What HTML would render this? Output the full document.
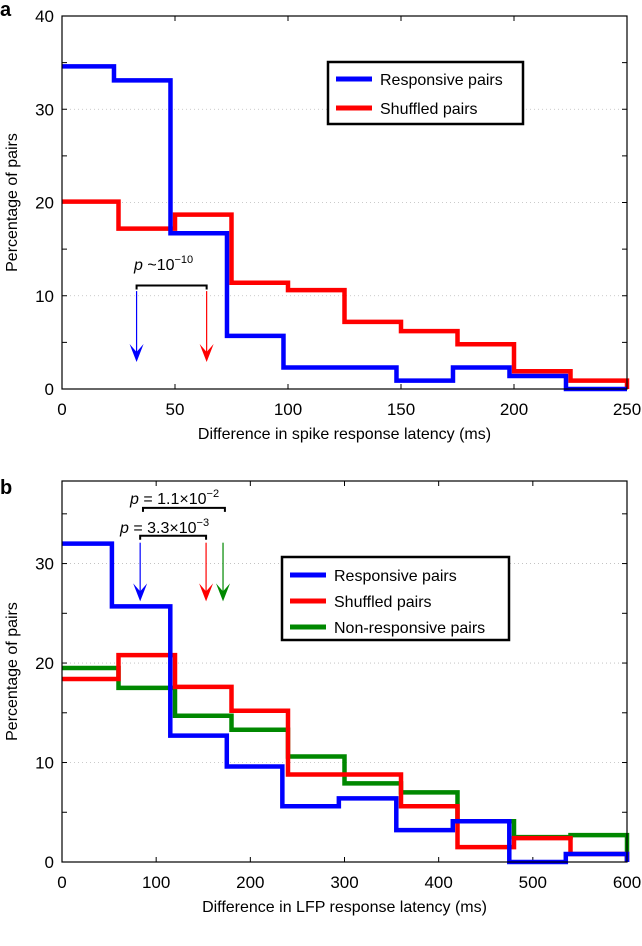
<!DOCTYPE html>
<html><head><meta charset="utf-8"><style>
body{margin:0;background:#fff;}
svg{display:block;font-family:"Liberation Sans",sans-serif;}
</style></head><body>
<svg id="s" width="642" height="946"></svg>
<script>
const aBlueEdges=[0,23,48,73,98,123,148,173,198,223,250];
const aBlueVals=[34.6,33.1,16.7,5.7,2.3,2.3,0.9,2.3,1.4,0];
const aRedEdges=[0,25,50,75,100,125,150,175,200,225,250];
const aRedVals=[20.1,17.2,18.7,11.4,10.6,7.2,6.2,4.8,1.9,0.9];
const aXTicks=[0,50,100,150,200,250];
const aYTicks=[0,10,20,30,40];
const bBlueEdges=[0,53,115,175,234,294,355,415,475,535,600];
const bBlueVals=[32,25.7,12.7,9.6,5.6,6.4,3.2,4.1,0,0.8];
const bEdges=[0,60,120,180,240,300,360,420,480,540,600];
const bRedVals=[18.4,20.8,17.6,15.2,8.8,8.8,5.6,1.5,2.4,0.8];
const bGreenVals=[19.5,17.5,14.7,13.3,10.6,7.9,7.0,4.1,2.5,2.7];
const bXTicks=[0,100,200,300,400,500,600];
const bYTicks=[0,10,20,30];
const NS="http://www.w3.org/2000/svg";
const S=document.getElementById('s');
function el(t,a,txt){const e=document.createElementNS(NS,t);for(const k in a)e.setAttribute(k,a[k]);if(txt!==undefined)e.textContent=txt;S.appendChild(e);return e;}
function panel(o){
 const X=v=>o.x0+(v-o.xmin)/(o.xmax-o.xmin)*(o.x1-o.x0);
 const Y=v=>o.y0-(v/o.ymax)*(o.y0-o.y1);
 for(let v=o.yminor;v<o.ymax;v+=o.yminor){
  const y=Y(v);
  if(v%10===0){const g=el('line',{x1:o.x0,x2:o.x1,y1:y,y2:y,stroke:'#bbb','stroke-width':0.8,'stroke-dasharray':'1,3'});}
  el('line',{x1:o.x0,x2:o.x0+5,y1:y,y2:y,stroke:'#000'});el('line',{x1:o.x1,x2:o.x1-5,y1:y,y2:y,stroke:'#000'});
 }
 o.yt.forEach(v=>{const t=el('text',{x:o.x0-8,y:Y(v)+6,'text-anchor':'end','font-size':17},v);});
 o.xt.forEach(v=>{const x=X(v);el('line',{x1:x,x2:x,y1:o.y0,y2:o.y0-5,stroke:'#000'});el('line',{x1:x,x2:x,y1:o.y1,y2:o.y1+5,stroke:'#000'});
  const t=el('text',{x:x,y:o.y0+26,'text-anchor':'middle','font-size':17},v);});
 o.series.forEach(s=>{
  let d='';for(let i=0;i<s.vals.length;i++){const xa=X(s.edges[i]),xb=X(s.edges[i+1]),y=Y(s.vals[i]);d+=(i?'L':'M')+xa+','+y+'L'+xb+','+y;}
  d+='L'+X(s.edges[s.edges.length-1])+','+Y(0);
  const p=el('path',{d:d,fill:'none',stroke:s.c,'stroke-width':4.5});
  
 });
 const r=el('rect',{x:o.x0,y:o.y1,width:o.x1-o.x0,height:o.y0-o.y1,fill:'none',stroke:'#000','stroke-width':1.2});
 
 const lab=el('text',{x:o.x0+(o.x1-o.x0)/2,y:o.y0+50,'text-anchor':'middle','font-size':16},o.xlabel);
 
 const yl=el('text',{transform:`translate(17,${(o.y0+o.y1)/2}) rotate(-90)`,'text-anchor':'middle','font-size':16},'Percentage of pairs');
 
 return {X,Y};
}
function arrow(x,yTop,yBot,c,name){
 const l=el('line',{x1:x,x2:x,y1:yTop,y2:yBot-6,stroke:c,'stroke-width':1.2});
 
 const h=el('path',{d:`M${x-7},${yBot-18}L${x},${yBot}L${x+7},${yBot-18}L${x},${yBot-10}Z`,fill:c});
 
}
function bracket(x1,x2,y,name){
 const p=el('path',{d:`M${x1},${y+4}L${x1},${y}L${x2},${y}L${x2},${y+4}`,fill:'none',stroke:'#000','stroke-width':2});
 
}
function legend(x,y,w,h,first,step,items){
 const r=el('rect',{x:x,y:y,width:w,height:h,fill:'#fff',stroke:'#000','stroke-width':2.5});
 
 items.forEach((it,i)=>{const yy=y+first+i*step;
  const l=el('line',{x1:x+8,x2:x+44,y1:yy,y2:yy,stroke:it[1],'stroke-width':5});
  
  const t=el('text',{x:x+52,y:yy+6,'font-size':16},it[0]);});
}
// panel a
const A=panel({x0:62,x1:627,y0:389,y1:16,xmin:0,xmax:250,ymax:40,yminor:5,xt:aXTicks,yt:aYTicks,xlabel:'Difference in spike response latency (ms)',
 series:[{edges:aRedEdges,vals:aRedVals,c:'#f00',name:'shuffled-pairs-line'},{edges:aBlueEdges,vals:aBlueVals,c:'#00f',name:'responsive-pairs-line'}]});
legend(328,62,195,62,17,29,[['Responsive pairs','#00f'],['Shuffled pairs','#f00']]);
arrow(A.X(33),A.Y(10.5),A.Y(2.9),'#00f','responsive-mean-arrow');
arrow(A.X(64),A.Y(10.5),A.Y(2.9),'#f00','shuffled-mean-arrow');
bracket(A.X(33),A.X(64),A.Y(11.1),'significance-bracket');
let t=el('text',{x:134,y:270,'font-size':16});t.innerHTML='<tspan font-style="italic">p</tspan> ~10<tspan dy="-7" font-size="11">−10</tspan>';

// panel b
const B=panel({x0:62,x1:627,y0:862,y1:481,xmin:0,xmax:600,ymax:38.3,yminor:5,xt:bXTicks,yt:bYTicks,xlabel:'Difference in LFP response latency (ms)',
 series:[{edges:bEdges,vals:bGreenVals,c:'#080',name:'non-responsive-pairs-line'},{edges:bEdges,vals:bRedVals,c:'#f00',name:'shuffled-pairs-line'},{edges:bBlueEdges,vals:bBlueVals,c:'#00f',name:'responsive-pairs-line'}]});
legend(282,557,227,83,18,26,[['Responsive pairs','#00f'],['Shuffled pairs','#f00'],['Non-responsive pairs','#080']]);
arrow(B.X(83),B.Y(32.1),B.Y(26.2),'#00f','responsive-mean-arrow');
arrow(B.X(153),B.Y(32.1),B.Y(26.2),'#f00','shuffled-mean-arrow');
arrow(B.X(171),B.Y(32.1),B.Y(26.2),'#080','non-responsive-mean-arrow');
bracket(B.X(83),B.X(153),B.Y(32.8),'significance-bracket-1');
bracket(B.X(86),B.X(173),B.Y(35.6),'significance-bracket-2');
t=el('text',{x:120,y:533,'font-size':16});t.innerHTML='<tspan font-style="italic">p</tspan> = 3.3×10<tspan dy="-7" font-size="11">−3</tspan>';

t=el('text',{x:130,y:504,'font-size':16});t.innerHTML='<tspan font-style="italic">p</tspan> = 1.1×10<tspan dy="-7" font-size="11">−2</tspan>';

t=el('text',{x:0,y:16,'font-size':20,'font-weight':'bold'},'a');
t=el('text',{x:0,y:494,'font-size':20,'font-weight':'bold'},'b');
</script>
</body></html>
